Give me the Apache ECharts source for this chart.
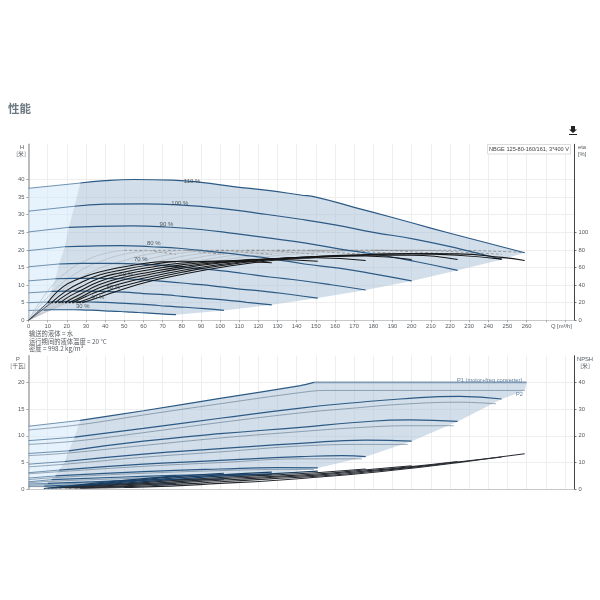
<!DOCTYPE html>
<html><head><meta charset="utf-8">
<style>html,body{margin:0;padding:0;background:#fff}#c{width:600px;height:600px}</style>
<script src="https://cdn.jsdelivr.net/npm/echarts@6/dist/echarts.min.js"></script></head>
<body><div id="c"></div>
<script>
const speedLabels = [[85.4,39.5,'110 %'],[79,33.2,'100 %'],[72,27.2,'90 %'],[65.4,21.8,'80 %'],[58.6,17.3,'70 %'],[51,13,'60 %'],[44.3,9.3,'50 %'],[36,6.4,'40 %'],[28.3,4.05,'30 %']];
// Head curves: first segment (to the 2nd point) is the thin out-of-range part
const h110 = [[0,37.5],[27,39],[40,39.7],[55,40],[75,39.8],[90,39.2],[107,38],[125,36.9],[142,35.6],[150,35],[170,32.1],[190,29.2],[210,26.2],[230,23.3],[259,19.2]];
const h100 = [[0,31],[24,32.4],[40,33],[60,33.1],[80,32.7],[100,31.8],[120,30.4],[142,28.7],[160,27.1],[180,25],[202,23],[225,20.3],[247,17.3]];
const h90 = [[0,25.1],[21,26.4],[36,26.7],[54,26.8],[72,26.5],[90,25.8],[108,24.6],[128,23.2],[144,22],[162,20.3],[182,18.7],[202,16.7],[224,14.2]];
const h80 = [[0,19.8],[19,20.9],[32,21.1],[48,21.2],[64,20.9],[80,20.4],[96,19.5],[114,18.4],[128,17.4],[144,16],[162,14.8],[180,13.2],[200,11.2]];
const h70 = [[0,15.2],[16,16],[28,16.2],[42,16.2],[56,16],[70,15.6],[84,14.9],[100,14.1],[112,13.3],[126,12.3],[142,11.3],[158,10.1],[176,8.6]];
const h60 = [[0,11.2],[14,11.8],[24,11.9],[36,11.9],[48,11.8],[60,11.5],[72,11],[86,10.3],[96,9.8],[108,9],[122,8.3],[136,7.4],[151,6.3]];
const h50 = [[0,7.8],[12,8.2],[20,8.3],[30,8.3],[40,8.2],[50,8],[60,7.6],[72,7.2],[80,6.8],[90,6.3],[102,5.8],[114,5.1],[127,4.4]];
const h40 = [[0,5],[10,5.2],[16,5.3],[24,5.3],[32,5.2],[40,5.1],[48,4.9],[58,4.6],[64,4.4],[72,4],[82,3.7],[92,3.3],[102,2.8]];
const h30 = [[0,2.8],[8,2.9],[12,3],[18,3],[24,3],[30,2.9],[36,2.8],[43,2.6],[48,2.5],[54,2.3],[61,2.1],[69,1.8],[77,1.6]];
// Region outlines
const hLowerEdge = [[259,19.2],[247,17.3],[224,14.2],[200,11.2],[176,8.6],[151,6.3],[127,4.4],[102,2.8],[77,1.6]];
const hMinFlow = [[8,2.9],[10,5.2],[14,11.8],[16,16],[19,20.9],[21,26.4],[24,32.4],[27,39]];
const pLowerEdge = [[260,20],[259,18.5],[247,16.9],[224,12.7],[200,9],[176,6.1],[151,4],[127,2.8],[102,1.9],[77,1]];
const pMinFlow = [[8,0.6],[10,1.1],[12,1.8],[14,2.5],[16,3.6],[19,5.2],[21,7.2],[24,9.75],[27,12.9]];
// Efficiency (total), eta axis
const e30 = [[10,20],[18,38],[27,47.7],[37,55],[48,60],[63,65.5],[70,66.5],[77,66.5]];
const e40 = [[12,20],[20,34],[27,42.5],[37,51.4],[48,57],[63,62.8],[80,67],[102,66]];
const e50 = [[14,20],[20,29.5],[27,37.5],[37,47.8],[48,54],[63,60.1],[80,65],[100,67.5],[127,65.5]];
const e60 = [[16.5,20],[22,28],[27,33.5],[37,44.2],[48,51],[63,57.4],[80,63],[100,67],[127,69],[151,67]];
const e70 = [[19,20],[23,25],[27,29.5],[37,40.6],[48,48],[63,54.7],[80,61],[100,66],[127,70],[150,71],[176,68]];
const e80 = [[21,20],[27,26],[37,37],[48,45],[63,52],[80,59],[100,65],[127,70],[150,72],[176,73],[200,69]];
const e90 = [[23,20],[30,27],[37,33.4],[48,41.5],[63,49.3],[80,56.5],[100,63.5],[127,69.5],[150,72.5],[176,74],[200,74],[224,69]];
const e100 = [[25.5,20],[32,25],[37,29.8],[48,38],[63,46.6],[80,54.5],[100,62],[127,69],[150,72.5],[176,74.5],[200,75.5],[224,74],[247,69.5]];
const e110 = [[28,20],[37,26.2],[48,34.5],[63,44],[80,52],[100,60],[127,68],[150,71.5],[176,74.5],[200,76],[224,75.5],[247,71.5],[259,68]];
const etaStartLine = [[10,20],[28,20]];
// Efficiency (pump only)
const g30 = [[0,0],[10,33],[20,55],[30,68],[40,76],[50,79.5],[60,79.5],[70,77],[77,75]];
const g40 = [[0,0],[13,33],[26,55],[39,68],[52,76],[65,79.5],[80,79.5],[92,77],[102,75]];
const g50 = [[0,0],[17,33],[33,55],[50,68],[65,76],[82,79.5],[100,79.5],[115,77],[127,75]];
const g60 = [[0,0],[20,33],[40,55],[60,68],[78,76],[98,79.5],[120,79.5],[138,77],[151,75]];
const g70 = [[0,0],[23,33],[46,55],[70,68],[91,76],[114,79.5],[140,79.5],[160,77],[176,75]];
const g80 = [[0,0],[26,33],[52,55],[80,68],[104,76],[130,79.5],[160,79.5],[184,77],[200,75]];
const g90 = [[0,0],[30,33],[60,55],[90,68],[117,76],[147,79.5],[180,79.5],[207,77],[224,75]];
const g100 = [[0,0],[33,33],[66,55],[100,68],[130,76],[163,79.5],[200,79.5],[230,77],[247,75]];
const g110 = [[0,0],[36,33],[72,55],[110,68],[143,76],[180,79.5],[220,79.5],[250,78],[259,77]];
// Power P1
const p110 = [[0,11.8],[27,12.9],[60,14.7],[100,17],[142,19.4],[149,20],[260,20]];
const p100 = [[0,9.1],[24,9.75],[60,11.4],[100,13.3],[142,15.2],[170,16.2],[194,16.9],[225,17.4],[247,16.9]];
const p90 = [[0,6.7],[21,7.2],[60,9],[100,10.4],[142,11.6],[170,12.5],[199,13],[224,12.7]];
const p80 = [[0,4.7],[19,5.2],[60,6.6],[100,7.6],[142,8.6],[176,9.2],[200,9]];
const p70 = [[0,3.1],[16,3.6],[60,4.7],[100,5.4],[142,6.1],[164,6.3],[176,6.1]];
const p60 = [[0,2.1],[14,2.5],[60,3.3],[100,3.8],[130,4.05],[151,4]];
const p50 = [[0,1.4],[12,1.8],[50,2.3],[90,2.7],[127,2.8]];
const p40 = [[0,1],[10,1.1],[40,1.5],[70,1.8],[102,1.9]];
const p30 = [[0,0.6],[8,0.6],[30,0.85],[55,1],[77,1]];
// Power P2
const q110 = [[0,11.1],[27,12.1],[60,13.9],[100,16],[142,18.1],[155,18.5],[259,18.5]];
const q100 = [[0,8.4],[24,9],[60,10.6],[100,12.5],[142,14.3],[170,15.2],[194,15.9],[225,16.3],[244,16]];
const q90 = [[0,6.3],[21,6.8],[60,8.2],[100,9.6],[142,10.8],[170,11.5],[199,11.9],[222,11.9]];
const q80 = [[0,4.2],[19,4.7],[60,6],[100,7],[142,8.1],[176,8.4],[198,8.4]];
const q70 = [[0,2.9],[16,3.3],[60,4.3],[100,5],[142,5.7],[174,5.7]];
const q60 = [[0,1.8],[14,2.2],[60,3],[100,3.5],[130,3.7],[149,3.7]];
const q50 = [[0,1.2],[12,1.5],[50,2],[90,2.4],[125,2.6]];
const q40 = [[0,0.8],[10,0.9],[40,1.3],[70,1.6],[100,1.7]];
const q30 = [[0,0.5],[8,0.5],[30,0.7],[55,0.85],[75,0.9]];
// NPSH
const n110 = [[27,0.4],[50,0.7],[74,1.2],[100,2.2],[126,3.2],[152,4.6],[175,6],[200,7.9],[224,10],[245,12],[259,13.3]];
const n100 = [[24,0.5],[50,1],[74,1.7],[100,2.8],[126,3.9],[152,5],[175,6.4],[200,8.2],[224,10.2],[247,12.1]];
const n90 = [[21,0.5],[50,1.3],[74,2.2],[100,3.4],[126,4.4],[152,5.4],[175,6.8],[200,8.5],[224,10.4]];
const n80 = [[19,0.5],[50,1.7],[74,2.7],[100,3.9],[126,4.8],[152,5.8],[175,7.2],[200,8.8]];
const n70 = [[16,0.5],[50,2],[74,3.2],[100,4.4],[126,5.3],[152,6.3],[176,7.6]];
const n60 = [[14,0.5],[50,2.3],[74,3.6],[100,4.9],[126,5.8],[151,6.8]];
const n50 = [[12,0.4],[50,2.7],[74,4.1],[100,5.4],[127,6.4]];
const n40 = [[10,0.4],[50,3],[80,4.9],[102,6]];
const n30 = [[8,0.3],[40,2.7],[60,4],[77,5]];

const xLabels=[];for(let v=0;v<=260;v+=10)xLabels.push(v);
const xTicks=[];for(let v=0;v<=280;v+=10)xTicks.push(v);
const hTicks=[0,5,10,15,20,25,30,35,40], etaTicks=[0,20,40,60,80,100], pTicks=[0,5,10,15,20], npshTicks=[0,10,20,30,40];

const FONT='"Liberation Sans",Arial,sans-serif', CJK='"Noto Sans CJK SC",sans-serif';
const BLUE='#2c5a85', LBL='#555b60';
const series=[];
function poly(pts,color,xi,yi,z){
  series.push({type:'custom',xAxisIndex:xi,yAxisIndex:yi,z:z,silent:true,clip:true,data:pts,encode:{x:0,y:1},
    renderItem:(p,api)=>p.dataIndex!==0?null:({type:'polygon',shape:{points:pts.map(a=>api.coord(a))},style:{fill:color}})});
}
function line(data,color,w,xi,yi,z,smooth,dash){
  series.push({type:'line',xAxisIndex:xi,yAxisIndex:yi,z:z,data:data,symbol:'none',silent:true,smooth:smooth===undefined?0.5:smooth,
    lineStyle:{color:color,width:w,type:dash||'solid'},clip:true});
}
const LIGHT='rgba(205,230,250,0.5)', DARK='rgba(165,190,212,0.5)';
poly([[0,0],...h110.slice(0,2),...hMinFlow.slice().reverse()],LIGHT,0,0,1);
poly([...h110.slice(1),...hLowerEdge,...h30.slice(1).reverse(),...hMinFlow],DARK,0,0,1);
poly([[0,0.5],[0,11.8],[27,12.9],...pMinFlow.slice().reverse()],LIGHT,1,2,1);
poly([...p110.slice(1),...pLowerEdge,...pMinFlow],DARK,1,2,1);
[h110,h100,h90,h80,h70,h60,h50,h40,h30].forEach(a=>{
  line(a.slice(0,2),'#50789c',0.8,0,0,3,0);
  line(a.slice(1),BLUE,1.2,0,0,4);
});
[g30,g40,g50,g60,g70,g80,g90,g100,g110].forEach(a=>{
  line(a.slice(0,6),'#b0b4b8',0.6,0,1,3,0.5);
  line(a.slice(5),'#7d7d7d',0.7,0,1,3,0.5,[3,2]);
});
[e30,e40].forEach(a=>line([[0,0],a[0]],'#2c3e50',0.8,0,1,5,0));
line(etaStartLine,'#111',1,0,1,5,0,[2,1.5]);
[e30,e40,e50,e60,e70,e80,e90,e100,e110].forEach(a=>line(a,'#161616',1.05,0,1,5,0.5));
series.push({type:'scatter',xAxisIndex:0,yAxisIndex:0,z:6,symbolSize:0,silent:true,data:speedLabels,
  label:{show:true,position:'inside',formatter:p=>p.data[2],fontFamily:FONT,fontSize:6,color:'#2b353d'}});
[p100,p90,p80,p70,p60,p50,p40,p30].forEach(a=>{
  line(a.slice(0,2),'#50789c',0.8,1,2,3,0);
  line(a.slice(1),BLUE,1.2,1,2,4,0.5);
});
line(p110.slice(0,2),'#50789c',0.8,1,2,3,0);
line(p110.slice(1,6),BLUE,1.2,1,2,4,0.2);
line(p110.slice(5),'#7f9ab5',1.8,1,2,4,0);
[q110,q100,q90,q80,q70,q60,q50,q40,q30].forEach(a=>line(a,'#6f8498',0.7,1,2,3,0.4));
[n30,n40,n50,n60].forEach(a=>line(a,'#1b3f63',1.2,1,3,5,0.5));
[n70,n80,n90,n100,n110].forEach(a=>line(a,'#262a30',1.1,1,3,5,0.5));

const grids=[{left:28.5,width:546,top:144.3,height:176},{left:28.5,width:546,top:355.7,height:133.6}];
const split={show:true,lineStyle:{color:'#eeeeee',width:1}};
function xAxis(i,labels){return {type:'value',gridIndex:i,min:0,max:285,interval:10,
  splitLine:split,
  axisLine:{show:true,onZero:false,lineStyle:{color:'#c8c8c8',width:1.2}},
  axisTick:{show:!!labels,length:2,customValues:xTicks,lineStyle:{color:'#888',width:0.7}},
  axisLabel:labels?{show:true,customValues:xLabels,fontFamily:FONT,fontSize:5.8,color:LBL,margin:3,hideOverlap:false,showMaxLabel:true}:{show:false}};}
function yLeft(i,max,int,ticks){return {type:'value',gridIndex:i,min:0,max:max,interval:int,position:'left',splitLine:split,
  axisLine:{show:true,onZero:false,lineStyle:{color:'#a8a8a8',width:1.5}},
  axisTick:{show:true,length:2,customValues:ticks,lineStyle:{color:'#777',width:0.7}},
  axisLabel:{show:true,customValues:ticks,fontFamily:FONT,fontSize:5.8,color:LBL,margin:4}};}
function yRight(i,max,int,ticks){return {type:'value',gridIndex:i,min:0,max:max,interval:int,position:'right',splitLine:{show:false},
  axisLine:{show:true,onZero:false,lineStyle:{color:'#444',width:1}},
  axisTick:{show:true,length:2,customValues:ticks,lineStyle:{color:'#444',width:0.7}},
  axisLabel:{show:true,customValues:ticks,fontFamily:FONT,fontSize:5.8,color:LBL,margin:4}};}

function txt(x,y,t,o){return {type:'text',x:x,y:y,silent:true,z:20,style:Object.assign({text:t,font:'5.8px '+FONT,fill:LBL,textAlign:'left',textVerticalAlign:'middle'},o||{})};}
const graphic=[
 txt(8,109,'性能',{font:'bold 11.5px '+CJK,fill:'#6c7a80'}),
 {type:'rect',silent:true,z:20,shape:{x:487.5,y:144.5,width:83,height:9.5},style:{fill:'#fff',stroke:'#cfcfcf',lineWidth:0.7}},
 txt(489,149.5,'NBGE 125-80-160/161, 3*400 V',{font:'5.6px '+FONT,fill:'#444'}),
 {type:'polygon',silent:true,z:20,shape:{points:[[571,126],[575,126],[575,129.5],[577,129.5],[573,133],[569,129.5],[571,129.5]]},style:{fill:'#222'}},
 {type:'rect',silent:true,z:20,shape:{x:569,y:134,width:8,height:1},style:{fill:'#222'}},
 txt(22,147.5,'H',{textAlign:'center'}),
 txt(21,153.5,'[米]',{textAlign:'center',font:'5.8px '+CJK}),
 txt(578,147.5,'eta'),
 txt(578,154,'[%]'),
 txt(18,359,'P',{textAlign:'center'}),
 txt(18,365.5,'[千瓦]',{textAlign:'center',font:'5.8px '+CJK}),
 txt(585,359,'NPSH',{textAlign:'center'}),
 txt(585,366,'[米]',{textAlign:'center',font:'5.8px '+CJK}),
 txt(551,326.5,'Q [m³/h]'),
 txt(29,334,'输送的液体 = 水',{font:'6.3px '+CJK}),
 txt(29,341.7,'运行期间的液体温度 = 20 °C',{font:'6.3px '+CJK}),
 txt(29,349,'密度 = 998.2 kg/m³',{font:'6.3px '+CJK}),
 txt(457,380,'P1 (motor+freq converter)',{font:'5.7px '+FONT,fill:'#5f7f9e'}),
 txt(516,394,'P2',{font:'5.7px '+FONT,fill:'#5f7f9e'})
];
const chart=echarts.init(document.getElementById('c'),null,{renderer:'canvas'});
chart.setOption({animation:false,backgroundColor:'#fff',grid:grids,
  xAxis:[xAxis(0,true),xAxis(1,false)],
  yAxis:[yLeft(0,50,5,hTicks),yRight(0,200,20,etaTicks),yLeft(1,25,5,pTicks),yRight(1,50,10,npshTicks)],
  series:series,graphic:graphic});
</script></body></html>
